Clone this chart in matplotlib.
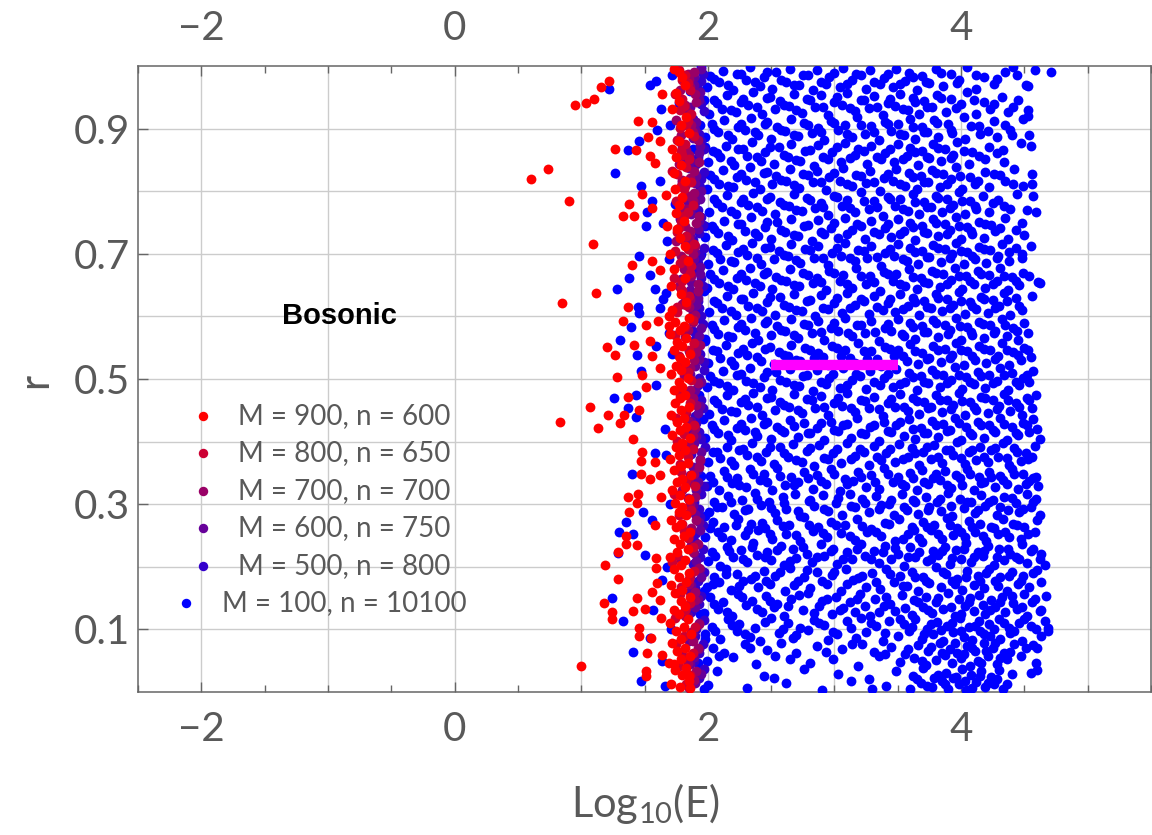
import numpy as np
import matplotlib
matplotlib.use("Agg")
import matplotlib.pyplot as plt
from matplotlib.lines import Line2D
from matplotlib.ticker import MultipleLocator, FixedLocator

plt.rcParams['font.family'] = ['Lato', 'DejaVu Sans']
plt.rcParams['mathtext.fontset'] = 'custom'
plt.rcParams['mathtext.rm'] = 'Lato'
plt.rcParams['mathtext.default'] = 'regular'

# series labels and colours (legend order)
labels = ["M = 900, n = 600", "M = 800, n = 650", "M = 700, n = 700",
          "M = 600, n = 750", "M = 500, n = 800", "M = 100, n = 10100"]
colors = ["#ff0000", "#cc0033", "#990066", "#660099", "#3300cc", "#0000ff"]

# M = 100 (blue) : estimated positions (log10 E, r)
blue_pts = [
(2.00,.011),(2.31,.006),(2.62,.014),(2.90,.003),(3.13,.017),(3.41,.009),(3.60,.004),(3.68,.015),(3.77,.008),(3.85,.018),(3.90,.005),(3.98,.012),(4.04,.003),(4.12,.016),(4.19,.008),(4.26,.013),(4.33,.004),
(2.07,.033),(2.44,.025),(2.76,.037),(3.03,.028),(3.27,.021),(3.49,.034),(3.62,.026),(3.70,.038),(3.79,.023),(3.88,.031),(3.94,.022),(4.01,.036),(4.08,.027),(4.16,.033),(4.24,.024),(4.30,.035),(4.40,.029),(4.55,.031),
(1.99,.049),(2.20,.056),(2.38,.044),(2.53,.058),(2.81,.047),(2.99,.053),(3.19,.042),(3.35,.057),(3.52,.048),(3.63,.055),(3.72,.043),(3.80,.051),(3.87,.059),(3.93,.046),(4.00,.054),(4.07,.041),(4.13,.050),(4.21,.057),(4.28,.045),(4.36,.052),(4.47,.058),(4.59,.046),
(2.04,.071),(2.13,.063),(2.29,.076),(2.47,.067),(2.58,.079),(2.70,.062),(2.86,.073),(3.06,.068),(3.22,.077),(3.31,.064),(3.45,.072),(3.56,.061),(3.66,.075),(3.74,.066),(3.83,.078),(3.91,.069),(3.97,.062),(4.05,.074),(4.11,.065),(4.18,.079),(4.25,.070),(4.34,.063),(4.42,.076),(4.60,.071),
(1.98,.092),(2.10,.084),(2.23,.097),(2.33,.088),(2.41,.081),(2.56,.095),(2.67,.086),(2.79,.099),(2.95,.083),(3.02,.093),(3.17,.087),(3.25,.096),(3.38,.082),(3.50,.090),(3.59,.098),(3.69,.085),(3.78,.093),(3.86,.081),(3.94,.096),(4.02,.088),(4.09,.083),(4.15,.097),(4.23,.090),(4.31,.085),(4.39,.095),(4.48,.082),(4.63,.089),(4.69,.097),
(2.03,.104),(2.16,.116),(2.25,.109),(2.37,.103),(2.50,.118),(2.63,.111),(2.73,.102),(2.84,.115),(2.92,.107),(3.10,.113),(3.21,.119),(3.33,.105),(3.43,.114),(3.55,.108),(3.64,.117),(3.73,.101),(3.81,.112),(3.89,.106),(3.99,.118),(4.06,.104),(4.14,.113),(4.22,.108),(4.30,.117),(4.38,.102),(4.46,.111),(4.55,.106),(4.66,.114),
(1.97,.126),(2.08,.133),(2.19,.122),(2.30,.139),(2.43,.128),(2.52,.136),(2.60,.121),(2.75,.131),(2.88,.138),(2.98,.124),(3.07,.134),(3.16,.127),(3.28,.121),(3.39,.137),(3.48,.129),(3.61,.123),(3.70,.135),(3.77,.126),(3.86,.132),(3.95,.121),(4.03,.138),(4.10,.129),(4.19,.124),(4.27,.135),(4.35,.127),(4.44,.133),(4.52,.122),(4.62,.130),
(2.02,.151),(2.12,.143),(2.24,.157),(2.35,.146),(2.46,.154),(2.55,.141),(2.66,.149),(2.79,.158),(2.90,.145),(3.01,.152),(3.12,.143),(3.20,.156),(3.32,.148),(3.44,.141),(3.53,.155),(3.63,.147),(3.72,.152),(3.80,.143),(3.90,.158),(3.98,.149),(4.06,.144),(4.14,.155),(4.24,.147),(4.32,.152),(4.41,.142),(4.50,.157),(4.58,.148),(4.67,.153),
(1.99,.168),(2.09,.175),(2.18,.163),(2.28,.178),(2.40,.167),(2.49,.172),(2.61,.161),(2.71,.177),(2.81,.166),(2.94,.173),(3.05,.162),(3.15,.179),(3.25,.168),(3.36,.164),(3.47,.176),(3.57,.169),(3.66,.161),(3.75,.174),(3.84,.167),(3.93,.178),(4.01,.163),(4.10,.171),(4.18,.166),(4.27,.177),(4.36,.162),(4.45,.173),(4.54,.167),(4.63,.175),
(2.05,.184),(2.14,.196),(2.23,.188),(2.34,.181),(2.44,.193),(2.53,.186),(2.65,.198),(2.76,.183),(2.86,.191),(2.98,.187),(3.09,.196),(3.19,.182),(3.30,.190),(3.41,.197),(3.52,.185),(3.61,.192),(3.70,.183),(3.80,.199),(3.88,.188),(3.97,.181),(4.05,.194),(4.13,.186),(4.22,.197),(4.31,.184),(4.40,.191),(4.49,.186),(4.60,.195),
(2.00,.209),(2.10,.202),(2.20,.216),(2.31,.207),(2.39,.219),(2.50,.211),(2.60,.203),(2.70,.214),(2.82,.208),(2.92,.218),(3.02,.204),(3.14,.212),(3.24,.217),(3.35,.206),(3.45,.213),(3.55,.202),(3.64,.215),(3.73,.209),(3.82,.219),(3.91,.205),(4.00,.213),(4.08,.207),(4.17,.218),(4.26,.203),(4.34,.211),(4.43,.216),(4.52,.206),(4.62,.213),
(2.03,.224),(2.15,.232),(2.26,.227),(2.36,.238),(2.47,.223),(2.58,.233),(2.67,.228),(2.78,.221),(2.89,.236),(2.99,.229),(3.10,.223),(3.21,.237),(3.31,.226),(3.40,.234),(3.50,.221),(3.60,.231),(3.69,.239),(3.78,.225),(3.87,.232),(3.96,.227),(4.04,.238),(4.13,.223),(4.21,.233),(4.30,.228),(4.39,.221),(4.48,.236),(4.57,.229),
(1.98,.247),(2.08,.255),(2.18,.243),(2.29,.251),(2.40,.258),(2.51,.245),(2.62,.253),(2.73,.242),(2.83,.257),(2.94,.248),(3.05,.254),(3.16,.243),(3.26,.256),(3.37,.249),(3.48,.241),(3.58,.252),(3.67,.246),(3.76,.258),(3.85,.244),(3.94,.251),(4.03,.247),(4.11,.256),(4.20,.242),(4.29,.253),(4.38,.248),(4.47,.244),(4.58,.255),
(2.04,.271),(2.13,.263),(2.24,.276),(2.34,.268),(2.45,.262),(2.55,.274),(2.64,.267),(2.76,.279),(2.87,.264),(2.97,.272),(3.08,.266),(3.18,.277),(3.29,.261),(3.40,.270),(3.51,.276),(3.61,.263),(3.70,.271),(3.79,.267),(3.89,.278),(3.97,.262),(4.06,.273),(4.15,.268),(4.24,.263),(4.33,.276),(4.41,.269),(4.50,.264),(4.60,.274),
(2.01,.288),(2.11,.296),(2.21,.284),(2.32,.292),(2.42,.299),(2.53,.286),(2.62,.293),(2.73,.281),(2.84,.297),(2.95,.289),(3.06,.283),(3.16,.295),(3.27,.287),(3.37,.298),(3.47,.282),(3.57,.291),(3.66,.285),(3.75,.296),(3.84,.289),(3.93,.281),(4.02,.294),(4.11,.286),(4.19,.297),(4.28,.283),(4.37,.291),(4.46,.287),(4.55,.295),(4.62,.283),
(2.05,.304),(2.16,.313),(2.27,.306),(2.37,.318),(2.48,.303),(2.59,.311),(2.69,.316),(2.80,.305),(2.91,.314),(3.01,.302),(3.12,.317),(3.22,.308),(3.33,.313),(3.43,.301),(3.53,.316),(3.62,.307),(3.72,.312),(3.81,.303),(3.90,.318),(3.99,.309),(4.08,.304),(4.16,.315),(4.25,.306),(4.34,.312),(4.43,.302),(4.52,.317),(4.59,.308),
(1.99,.329),(2.09,.322),(2.19,.334),(2.30,.327),(2.41,.338),(2.51,.323),(2.61,.331),(2.71,.336),(2.83,.325),(2.93,.333),(3.04,.321),(3.15,.337),(3.25,.328),(3.35,.324),(3.46,.335),(3.56,.329),(3.65,.322),(3.74,.333),(3.83,.338),(3.92,.326),(4.01,.331),(4.10,.322),(4.18,.336),(4.27,.328),(4.36,.333),(4.45,.324),(4.54,.337),(4.61,.329),
(2.02,.345),(2.13,.353),(2.23,.342),(2.33,.356),(2.44,.348),(2.55,.358),(2.66,.343),(2.76,.351),(2.86,.346),(2.97,.357),(3.08,.341),(3.19,.352),(3.29,.347),(3.39,.358),(3.50,.344),(3.60,.350),(3.69,.355),(3.78,.342),(3.87,.353),(3.96,.347),(4.05,.356),(4.14,.343),(4.22,.351),(4.31,.345),(4.40,.357),(4.49,.348),(4.57,.342),
(2.00,.367),(2.10,.374),(2.21,.362),(2.31,.378),(2.42,.369),(2.52,.364),(2.63,.375),(2.74,.368),(2.84,.361),(2.95,.373),(3.05,.366),(3.16,.377),(3.27,.363),(3.37,.371),(3.48,.367),(3.58,.376),(3.67,.362),(3.76,.372),(3.85,.366),(3.94,.378),(4.03,.364),(4.12,.371),(4.21,.367),(4.29,.375),(4.38,.362),(4.47,.369),(4.56,.376),
(2.04,.384),(2.15,.392),(2.25,.387),(2.35,.398),(2.46,.383),(2.57,.391),(2.67,.396),(2.78,.385),(2.88,.394),(2.99,.382),(3.10,.397),(3.20,.388),(3.31,.393),(3.41,.381),(3.51,.396),(3.61,.389),(3.70,.384),(3.79,.395),(3.88,.387),(3.97,.399),(4.06,.383),(4.15,.391),(4.24,.386),(4.33,.397),(4.42,.389),(4.51,.382),(4.58,.393),
(1.98,.406),(2.08,.414),(2.18,.403),(2.29,.418),(2.39,.409),(2.50,.404),(2.60,.416),(2.71,.408),(2.81,.413),(2.92,.402),(3.03,.417),(3.13,.406),(3.24,.412),(3.35,.401),(3.45,.416),(3.55,.409),(3.64,.404),(3.73,.414),(3.82,.407),(3.91,.418),(4.00,.403),(4.09,.411),(4.18,.406),(4.27,.416),(4.36,.402),(4.45,.410),(4.54,.415),(4.62,.404),
(2.03,.427),(2.13,.434),(2.23,.422),(2.34,.437),(2.44,.428),(2.55,.423),(2.65,.435),(2.76,.429),(2.86,.421),(2.97,.432),(3.07,.426),(3.18,.438),(3.28,.424),(3.39,.431),(3.49,.427),(3.59,.436),(3.68,.422),(3.77,.433),(3.86,.428),(3.95,.438),(4.04,.424),(4.13,.432),(4.22,.426),(4.31,.437),(4.40,.423),(4.49,.430),(4.57,.436),
(2.01,.444),(2.11,.452),(2.22,.447),(2.32,.458),(2.43,.443),(2.53,.451),(2.64,.456),(2.74,.445),(2.85,.454),(2.95,.442),(3.06,.457),(3.16,.448),(3.27,.453),(3.38,.441),(3.48,.456),(3.58,.449),(3.67,.444),(3.76,.455),(3.85,.447),(3.94,.459),(4.03,.443),(4.12,.451),(4.21,.446),(4.30,.457),(4.39,.449),(4.48,.442),(4.56,.453),
(2.05,.466),(2.15,.474),(2.26,.463),(2.36,.478),(2.47,.469),(2.57,.464),(2.68,.476),(2.78,.468),(2.89,.473),(3.00,.462),(3.10,.477),(3.21,.466),(3.31,.472),(3.42,.461),(3.52,.476),(3.62,.469),(3.71,.464),(3.80,.474),(3.89,.467),(3.98,.478),(4.07,.463),(4.16,.471),(4.25,.466),(4.34,.476),(4.43,.462),(4.52,.470),(4.59,.475),
(1.99,.487),(2.09,.494),(2.20,.482),(2.30,.497),(2.41,.488),(2.51,.483),(2.62,.495),(2.72,.489),(2.83,.481),(2.93,.492),(3.04,.486),(3.14,.498),(3.25,.484),(3.36,.491),(3.46,.487),(3.56,.496),(3.65,.482),(3.74,.493),(3.83,.488),(3.92,.498),(4.01,.484),(4.10,.492),(4.19,.486),(4.28,.497),(4.37,.483),(4.46,.490),(4.54,.495),
(2.02,.504),(2.12,.512),(2.23,.507),(2.33,.518),(2.44,.503),(2.54,.511),(2.65,.516),(2.75,.505),(2.86,.514),(2.96,.502),(3.07,.517),(3.17,.508),(3.28,.513),(3.39,.501),(3.49,.516),(3.59,.509),(3.68,.504),(3.77,.515),(3.86,.507),(3.95,.519),(4.04,.503),(4.13,.511),(4.22,.506),(4.31,.517),(4.40,.509),(4.49,.502),(4.57,.513),
(2.00,.526),(2.10,.534),(2.21,.523),(2.31,.538),(2.42,.529),(2.52,.524),(2.63,.536),(2.73,.528),(2.84,.533),(2.95,.522),(3.05,.537),(3.16,.526),(3.26,.532),(3.37,.521),(3.47,.536),(3.57,.529),(3.66,.524),(3.75,.534),(3.84,.527),(3.93,.538),(4.02,.523),(4.11,.531),(4.20,.526),(4.29,.536),(4.38,.522),(4.47,.530),(4.55,.535),
(2.04,.547),(2.14,.554),(2.24,.542),(2.35,.557),(2.45,.548),(2.56,.543),(2.66,.555),(2.77,.549),(2.87,.541),(2.98,.552),(3.08,.546),(3.19,.558),(3.29,.544),(3.40,.551),(3.50,.547),(3.60,.556),(3.69,.542),(3.78,.553),(3.87,.548),(3.96,.558),(4.05,.544),(4.14,.552),(4.23,.546),(4.32,.557),(4.41,.543),(4.50,.550),
(1.98,.564),(2.08,.572),(2.19,.567),(2.29,.578),(2.40,.563),(2.50,.571),(2.61,.576),(2.71,.565),(2.82,.574),(2.92,.562),(3.03,.577),(3.14,.568),(3.24,.573),(3.35,.561),(3.45,.576),(3.55,.569),(3.64,.564),(3.73,.575),(3.82,.567),(3.91,.579),(4.00,.563),(4.09,.571),(4.18,.566),(4.27,.577),(4.36,.569),(4.45,.562),(4.53,.573),
(2.03,.586),(2.13,.594),(2.24,.583),(2.34,.598),(2.45,.589),(2.55,.584),(2.66,.596),(2.76,.588),(2.87,.593),(2.97,.582),(3.08,.597),(3.18,.586),(3.29,.592),(3.40,.581),(3.50,.596),(3.60,.589),(3.69,.584),(3.78,.594),(3.87,.587),(3.96,.598),(4.05,.583),(4.14,.591),(4.23,.586),(4.32,.596),(4.41,.582),(4.50,.590),
(2.01,.607),(2.11,.614),(2.22,.602),(2.32,.617),(2.43,.608),(2.53,.603),(2.64,.615),(2.74,.609),(2.85,.601),(2.95,.612),(3.06,.606),(3.16,.618),(3.27,.604),(3.38,.611),(3.48,.607),(3.58,.616),(3.67,.602),(3.76,.613),(3.85,.608),(3.94,.618),(4.03,.604),(4.12,.612),(4.21,.606),(4.30,.617),(4.39,.603),(4.48,.610),
(2.05,.624),(2.15,.632),(2.26,.627),(2.36,.638),(2.47,.623),(2.57,.631),(2.68,.636),(2.78,.625),(2.89,.634),(3.00,.622),(3.10,.637),(3.21,.628),(3.31,.633),(3.42,.621),(3.52,.636),(3.62,.629),(3.71,.624),(3.80,.635),(3.89,.627),(3.98,.639),(4.07,.623),(4.16,.631),(4.25,.626),(4.34,.637),(4.43,.629),(4.56,.633),
(1.99,.646),(2.09,.654),(2.20,.643),(2.30,.658),(2.41,.649),(2.51,.644),(2.62,.656),(2.72,.648),(2.83,.653),(2.93,.642),(3.04,.657),(3.14,.646),(3.25,.652),(3.36,.641),(3.46,.656),(3.56,.649),(3.65,.644),(3.74,.654),(3.83,.647),(3.92,.658),(4.01,.643),(4.10,.651),(4.19,.646),(4.28,.656),(4.37,.642),(4.46,.650),(4.61,.655),
(2.02,.667),(2.12,.674),(2.23,.662),(2.33,.677),(2.44,.668),(2.54,.663),(2.65,.675),(2.75,.669),(2.86,.661),(2.96,.672),(3.07,.666),(3.17,.678),(3.28,.664),(3.39,.671),(3.49,.667),(3.59,.676),(3.68,.662),(3.77,.673),(3.86,.668),(3.95,.678),(4.04,.664),(4.13,.672),(4.22,.666),(4.31,.677),(4.40,.663),(4.49,.670),
(2.00,.684),(2.10,.692),(2.21,.687),(2.31,.698),(2.42,.683),(2.52,.691),(2.63,.696),(2.73,.685),(2.84,.694),(2.95,.682),(3.05,.697),(3.16,.688),(3.26,.693),(3.37,.681),(3.47,.696),(3.57,.689),(3.66,.684),(3.75,.695),(3.84,.687),(3.93,.699),(4.02,.683),(4.11,.691),(4.20,.686),(4.29,.697),(4.38,.689),(4.48,.694),
(2.04,.706),(2.14,.714),(2.24,.703),(2.35,.718),(2.45,.709),(2.56,.704),(2.66,.716),(2.77,.708),(2.87,.713),(2.98,.702),(3.08,.717),(3.19,.706),(3.29,.712),(3.40,.701),(3.50,.716),(3.60,.709),(3.69,.704),(3.78,.714),(3.87,.707),(3.96,.718),(4.05,.703),(4.14,.711),(4.23,.706),(4.32,.716),(4.43,.709),(4.55,.713),
(1.98,.727),(2.08,.734),(2.19,.722),(2.29,.737),(2.40,.728),(2.50,.723),(2.61,.735),(2.71,.729),(2.82,.721),(2.92,.732),(3.03,.726),(3.14,.738),(3.24,.724),(3.35,.731),(3.45,.727),(3.55,.736),(3.64,.722),(3.73,.733),(3.82,.728),(3.91,.738),(4.00,.724),(4.09,.732),(4.18,.726),(4.27,.737),(4.37,.723),(4.50,.730),
(2.03,.744),(2.13,.752),(2.24,.747),(2.34,.758),(2.45,.743),(2.55,.751),(2.66,.756),(2.76,.745),(2.87,.754),(2.97,.742),(3.08,.757),(3.18,.748),(3.29,.753),(3.40,.741),(3.50,.756),(3.60,.749),(3.69,.744),(3.78,.755),(3.87,.747),(3.96,.759),(4.05,.743),(4.14,.751),(4.24,.746),(4.35,.757),(4.48,.749),
(2.01,.766),(2.11,.774),(2.22,.763),(2.32,.778),(2.43,.769),(2.53,.764),(2.64,.776),(2.74,.768),(2.85,.773),(2.95,.762),(3.06,.777),(3.16,.766),(3.27,.772),(3.38,.761),(3.48,.776),(3.58,.769),(3.67,.764),(3.76,.774),(3.85,.767),(3.94,.778),(4.03,.763),(4.12,.771),(4.22,.766),(4.34,.776),(4.52,.770),
(2.05,.787),(2.15,.794),(2.26,.782),(2.36,.797),(2.47,.788),(2.57,.783),(2.68,.795),(2.78,.789),(2.89,.781),(3.00,.792),(3.10,.786),(3.21,.798),(3.31,.784),(3.42,.791),(3.52,.787),(3.62,.796),(3.71,.782),(3.80,.793),(3.89,.788),(3.98,.798),(4.07,.784),(4.17,.792),(4.29,.786),(4.44,.795),
(1.99,.804),(2.09,.812),(2.20,.807),(2.30,.818),(2.41,.803),(2.51,.811),(2.62,.816),(2.72,.805),(2.83,.814),(2.93,.802),(3.04,.817),(3.14,.808),(3.25,.813),(3.36,.801),(3.46,.816),(3.56,.809),(3.65,.804),(3.74,.815),(3.83,.807),(3.92,.819),(4.01,.803),(4.11,.811),(4.22,.806),(4.35,.817),(4.49,.808),
(2.02,.826),(2.12,.834),(2.23,.823),(2.33,.838),(2.44,.829),(2.54,.824),(2.65,.836),(2.75,.828),(2.86,.833),(2.96,.822),(3.07,.837),(3.17,.826),(3.28,.832),(3.39,.821),(3.49,.836),(3.59,.829),(3.68,.824),(3.77,.834),(3.86,.827),(3.96,.838),(4.07,.823),(4.19,.831),(4.31,.826),(4.42,.836),
(2.00,.847),(2.10,.854),(2.21,.842),(2.31,.857),(2.42,.848),(2.52,.843),(2.63,.855),(2.73,.849),(2.84,.841),(2.95,.852),(3.05,.846),(3.16,.858),(3.26,.844),(3.37,.851),(3.47,.847),(3.57,.856),(3.66,.842),(3.75,.853),(3.84,.848),(3.94,.858),(4.06,.844),(4.19,.852),(4.34,.846),
(2.04,.864),(2.14,.872),(2.24,.867),(2.35,.878),(2.45,.863),(2.56,.871),(2.66,.876),(2.77,.865),(2.87,.874),(2.98,.862),(3.08,.877),(3.19,.868),(3.29,.873),(3.40,.861),(3.50,.876),(3.60,.869),(3.69,.864),(3.78,.875),(3.87,.867),(3.97,.879),(4.09,.863),(4.22,.871),(4.33,.866),(4.47,.877),
(1.98,.886),(2.08,.894),(2.19,.883),(2.29,.898),(2.40,.889),(2.50,.884),(2.61,.896),(2.71,.888),(2.82,.893),(2.92,.882),(3.03,.897),(3.14,.886),(3.24,.892),(3.35,.881),(3.45,.896),(3.55,.889),(3.64,.884),(3.73,.894),(3.82,.887),(3.92,.898),(4.03,.883),(4.15,.891),(4.28,.886),(4.39,.897),(4.54,.889),
(2.03,.907),(2.13,.914),(2.24,.902),(2.34,.917),(2.45,.908),(2.55,.903),(2.66,.915),(2.76,.909),(2.87,.901),(2.97,.912),(3.08,.906),(3.18,.918),(3.29,.904),(3.40,.911),(3.50,.907),(3.60,.916),(3.69,.902),(3.79,.913),(3.90,.908),(4.02,.918),(4.14,.904),(4.26,.912),(4.49,.915),
(2.01,.924),(2.11,.932),(2.22,.927),(2.32,.938),(2.43,.923),(2.53,.931),(2.64,.936),(2.74,.925),(2.85,.934),(2.95,.922),(3.06,.937),(3.16,.928),(3.27,.933),(3.38,.921),(3.48,.936),(3.58,.929),(3.67,.924),(3.77,.935),(3.88,.927),(4.00,.939),(4.12,.923),(4.23,.931),(4.37,.926),(4.53,.929),
(2.05,.946),(2.15,.954),(2.26,.943),(2.36,.958),(2.47,.949),(2.57,.944),(2.68,.956),(2.78,.948),(2.89,.953),(3.00,.942),(3.10,.957),(3.21,.946),(3.31,.952),(3.42,.941),(3.52,.956),(3.62,.949),(3.71,.944),(3.81,.954),(3.92,.947),(4.05,.958),(4.18,.943),(4.32,.951),(4.45,.946),
(1.99,.967),(2.09,.974),(2.20,.962),(2.30,.977),(2.41,.968),(2.51,.963),(2.62,.975),(2.72,.969),(2.83,.961),(2.93,.972),(3.04,.966),(3.14,.978),(3.25,.964),(3.36,.971),(3.46,.967),(3.56,.976),(3.65,.962),(3.75,.973),(3.86,.968),(3.98,.978),(4.12,.964),(4.26,.972),(4.51,.969),
(2.02,.984),(2.12,.992),(2.23,.987),(2.33,.998),(2.44,.983),(2.54,.991),(2.65,.996),(2.75,.985),(2.86,.994),(2.96,.982),(3.07,.997),(3.17,.988),(3.28,.993),(3.39,.981),(3.49,.996),(3.59,.989),(3.69,.984),(3.80,.995),(3.92,.987),(4.05,.998),(4.18,.983),(4.35,.991),(4.58,.994),(4.71,.990),
# right-edge stragglers
(4.41,.999),(4.53,.968),(4.53,.920),(4.40,.890),(4.55,.872),(4.56,.828),(4.56,.811),(4.57,.792),(4.59,.766),(4.62,.654),(4.66,.203),(4.69,.102),(4.63,.131),(4.57,.075),(4.60,.035),
# sparse blue left of the dense block
(1.22,.963),(1.54,.969),(1.59,.976),(1.63,.932),(1.46,.880),(1.37,.866),(1.60,.897),(1.27,.829),(1.47,.809),(1.62,.816),(1.56,.785),(1.52,.766),(1.51,.744),(1.65,.750),(1.46,.696),(1.38,.662),(1.54,.666),(1.28,.643),(1.58,.643),(1.45,.615),(1.46,.605),(1.62,.614),(1.31,.563),(1.39,.583),(1.44,.539),(1.59,.553),(1.47,.512),(1.69,.691),(1.67,.638),(1.65,.627),(1.69,.573),(1.26,.470),(1.43,.475),(1.37,.454),(1.43,.440),(1.59,.491),(1.58,.382),(1.40,.348),(1.49,.288),(1.35,.272),(1.30,.256),(1.41,.252),(1.56,.275),(1.50,.219),(1.29,.222),(1.24,.150),(1.33,.113),(1.54,.086),(1.41,.064),(1.47,.017),(1.64,.050),(1.57,.131),(1.64,.179),(1.67,.379),
(1.72,.985),(1.86,.960),(1.70,.905),(1.90,.850),(1.74,.780),(1.68,.720),(1.93,.760),(1.72,.540),(1.66,.420),(1.70,.300),(1.68,.200),(1.71,.100),(1.66,.010),
(1.97,.004),(1.92,.046),(1.98,.084),(1.94,.125),(1.97,.162),(1.90,.240),(1.98,.281),(1.95,.345),(1.96,.436),(1.93,.474),(1.98,.560),(1.92,.598),(1.97,.640),(1.95,.700),(1.98,.745),(1.91,.790),(1.96,.828),(1.98,.870),(1.94,.905),(1.97,.946),(1.92,.975),(1.95,.998),(1.82,.982),(1.77,.941),(1.88,.867),
]

# more M = 100 points filling the dense block
blue_fill_pts = [
(3.65,.020),(3.73,.010),(3.82,.027),(3.87,.013),(3.96,.024),(4.03,.017),(4.09,.006),(4.15,.025),(4.21,.015),(4.28,.021),(4.36,.012),(2.52,.022),(3.30,.005),
(2.09,.058),(2.33,.071),(2.65,.052),(2.93,.064),(3.14,.077),(3.40,.060),(3.58,.069),(3.69,.050),(3.76,.072),(3.85,.063),(3.95,.079),(4.02,.060),(4.09,.070),(4.16,.046),(4.20,.066),(4.27,.078),(4.31,.054),(4.39,.064),(4.51,.071),
(2.06,.098),(2.19,.107),(2.29,.093),(2.45,.112),(2.59,.100),(2.70,.091),(2.88,.110),(2.99,.096),(3.13,.103),(3.29,.111),(3.40,.094),(3.52,.116),(3.61,.104),(3.71,.092),(3.76,.108),(3.84,.099),(3.93,.110),(4.00,.097),(4.11,.105),(4.18,.093),(4.26,.101),(4.34,.111),(4.42,.098),(4.50,.117),(4.59,.101),
(2.05,.140),(2.15,.128),(2.27,.151),(2.39,.133),(2.49,.146),(2.63,.137),(2.72,.155),(2.84,.126),(2.94,.148),(3.04,.131),(3.18,.149),(3.24,.138),(3.35,.128),(3.41,.152),(3.56,.134),(3.66,.144),(3.74,.131),(3.82,.150),(3.92,.136),(4.00,.124),(4.07,.150),(4.17,.139),(4.23,.131),(4.31,.144),(4.40,.153),(4.48,.136),(4.56,.143),
(2.04,.173),(2.14,.189),(2.25,.170),(2.37,.185),(2.46,.177),(2.57,.191),(2.68,.171),(2.78,.195),(2.90,.178),(3.00,.192),(3.10,.172),(3.22,.186),(3.33,.175),(3.44,.189),(3.54,.170),(3.64,.184),(3.72,.177),(3.86,.191),(3.95,.172),(4.04,.184),(4.15,.178),(4.20,.190),(4.29,.169),(4.38,.186),(4.47,.177),(4.57,.190),
(2.06,.218),(2.17,.226),(2.28,.212),(2.35,.231),(2.45,.216),(2.55,.227),(2.65,.210),(2.75,.232),(2.86,.215),(2.97,.226),(3.07,.212),(3.18,.228),(3.29,.212),(3.38,.224),(3.48,.230),(3.58,.215),(3.67,.223),(3.76,.212),(3.85,.225),(3.93,.214),(4.02,.229),(4.10,.216),(4.18,.226),(4.28,.215),(4.37,.229),(4.46,.212),(4.55,.225),(4.63,.220),
(2.02,.262),(2.11,.247),(2.22,.266),(2.32,.258),(2.43,.270),(2.49,.253),(2.59,.265),(2.70,.251),(2.80,.267),(2.91,.254),(3.01,.266),(3.12,.250),(3.22,.265),(3.33,.255),(3.43,.268),(3.54,.244),(3.63,.259),(3.73,.264),(3.82,.252),(3.91,.267),(4.00,.256),(4.09,.264),(4.17,.250),(4.26,.262),(4.35,.256),(4.44,.267),(4.53,.252),
(2.07,.296),(2.18,.304),(2.29,.291),(2.39,.308),(2.50,.294),(2.60,.302),(2.71,.289),(2.81,.306),(2.92,.292),(3.03,.310),(3.13,.297),(3.24,.302),(3.35,.292),(3.45,.307),(3.55,.296),(3.64,.303),(3.74,.290),(3.83,.308),(3.92,.297),(4.05,.303),(4.13,.291),(4.22,.303),(4.31,.296),(4.40,.310),(4.49,.293),(4.57,.304),
(2.04,.336),(2.15,.344),(2.25,.331),(2.36,.348),(2.47,.335),(2.57,.345),(2.68,.330),(2.79,.342),(2.89,.337),(3.00,.349),(3.10,.332),(3.21,.344),(3.32,.336),(3.42,.348),(3.53,.332),(3.62,.342),(3.71,.336),(3.80,.348),(3.89,.331),(3.99,.342),(4.07,.349),(4.16,.334),(4.24,.344),(4.33,.339),(4.42,.348),(4.51,.333),(4.59,.344),
(2.07,.383),(2.18,.369),(2.28,.388),(2.39,.375),(2.49,.392),(2.60,.381),(2.70,.370),(2.81,.389),(2.92,.374),(3.02,.388),(3.13,.372),(3.23,.383),(3.34,.375),(3.44,.388),(3.54,.372),(3.64,.381),(3.73,.392),(3.82,.375),(3.91,.387),(4.00,.374),(4.09,.386),(4.18,.376),(4.27,.389),(4.36,.374),(4.44,.384),(4.53,.372),
(2.05,.420),(2.16,.411),(2.26,.428),(2.37,.415),(2.47,.432),(2.58,.419),(2.68,.425),(2.79,.414),(2.89,.430),(3.00,.418),(3.10,.428),(3.21,.413),(3.31,.426),(3.42,.417),(3.52,.431),(3.62,.420),(3.71,.413),(3.80,.426),(3.89,.417),(3.98,.430),(4.07,.414),(4.16,.426),(4.25,.418),(4.34,.428),(4.43,.414),(4.52,.426),(4.60,.420),
(2.07,.462),(2.18,.449),(2.29,.468),(2.39,.455),(2.50,.471),(2.60,.458),(2.71,.450),(2.82,.466),(2.92,.455),(3.03,.470),(3.13,.453),(3.24,.465),(3.35,.452),(3.45,.468),(3.55,.456),(3.65,.465),(3.74,.453),(3.83,.467),(3.92,.452),(4.01,.465),(4.10,.456),(4.19,.469),(4.28,.452),(4.37,.466),(4.46,.456),(4.54,.466),
(2.05,.497),(2.15,.489),(2.26,.508),(2.36,.493),(2.47,.511),(2.57,.498),(2.68,.490),(2.78,.506),(2.89,.495),(2.99,.508),(3.10,.491),(3.20,.505),(3.31,.496),(3.42,.508),(3.52,.492),(3.62,.503),(3.71,.495),(3.80,.508),(3.89,.493),(3.98,.506),(4.07,.496),(4.16,.505),(4.25,.493),(4.34,.507),(4.43,.496),(4.52,.506),
(2.07,.544),(2.18,.529),(2.28,.548),(2.39,.535),(2.49,.551),(2.60,.538),(2.70,.530),(2.81,.546),(2.91,.535),(3.02,.549),(3.12,.533),(3.23,.545),(3.34,.532),(3.44,.548),(3.54,.536),(3.64,.545),(3.73,.532),(3.82,.547),(3.91,.533),(4.00,.546),(4.09,.536),(4.18,.548),(4.27,.532),(4.36,.546),(4.45,.538),(4.53,.547),
(2.05,.580),(2.16,.569),(2.26,.588),(2.37,.574),(2.47,.592),(2.58,.578),(2.68,.570),(2.79,.586),(2.89,.575),(3.00,.590),(3.11,.573),(3.21,.586),(3.32,.575),(3.42,.588),(3.53,.572),(3.62,.583),(3.71,.575),(3.80,.589),(3.90,.572),(3.99,.585),(4.08,.575),(4.17,.588),(4.26,.573),(4.35,.586),(4.44,.577),
(2.07,.622),(2.18,.609),(2.28,.628),(2.39,.614),(2.49,.631),(2.60,.618),(2.70,.610),(2.81,.626),(2.91,.614),(3.02,.630),(3.12,.613),(3.23,.625),(3.34,.615),(3.44,.628),(3.54,.612),(3.64,.623),(3.73,.615),(3.82,.629),(3.91,.613),(4.00,.625),(4.09,.616),(4.18,.628),(4.27,.613),(4.36,.624),(4.46,.617),
(2.05,.660),(2.16,.649),(2.26,.667),(2.37,.654),(2.47,.671),(2.58,.658),(2.68,.650),(2.79,.666),(2.89,.655),(3.00,.669),(3.10,.652),(3.21,.665),(3.31,.655),(3.42,.668),(3.52,.652),(3.62,.663),(3.71,.655),(3.80,.669),(3.89,.652),(3.98,.665),(4.07,.656),(4.16,.668),(4.25,.652),(4.34,.664),(4.43,.657),(4.54,.664),
(2.07,.701),(2.18,.689),(2.28,.708),(2.39,.694),(2.49,.711),(2.60,.698),(2.70,.690),(2.81,.706),(2.91,.694),(3.02,.710),(3.12,.693),(3.23,.705),(3.34,.695),(3.44,.708),(3.54,.692),(3.64,.703),(3.73,.695),(3.82,.709),(3.91,.693),(4.00,.705),(4.09,.696),(4.18,.708),(4.28,.693),(4.38,.703),(4.48,.700),
(2.05,.740),(2.16,.729),(2.26,.747),(2.37,.734),(2.47,.751),(2.58,.738),(2.68,.730),(2.79,.746),(2.89,.735),(3.00,.749),(3.10,.732),(3.21,.745),(3.31,.735),(3.42,.748),(3.52,.732),(3.62,.743),(3.71,.735),(3.80,.749),(3.89,.732),(3.98,.745),(4.08,.736),(4.19,.748),(4.31,.741),(4.43,.738),
(2.07,.781),(2.18,.769),(2.28,.788),(2.39,.774),(2.49,.791),(2.60,.778),(2.70,.770),(2.81,.786),(2.91,.774),(3.02,.790),(3.12,.773),(3.23,.785),(3.34,.775),(3.44,.788),(3.54,.772),(3.64,.783),(3.73,.775),(3.82,.789),(3.91,.773),(4.01,.785),(4.11,.776),(4.25,.781),(4.39,.772),
(2.05,.820),(2.16,.809),(2.26,.827),(2.37,.814),(2.47,.831),(2.58,.818),(2.68,.810),(2.79,.826),(2.89,.815),(3.00,.829),(3.10,.812),(3.21,.825),(3.31,.815),(3.42,.828),(3.52,.812),(3.62,.823),(3.71,.815),(3.80,.829),(3.89,.812),(3.99,.825),(4.13,.817),(4.26,.828),(4.41,.811),
(2.07,.861),(2.18,.849),(2.28,.868),(2.39,.854),(2.49,.871),(2.60,.858),(2.70,.850),(2.81,.866),(2.91,.854),(3.02,.870),(3.12,.853),(3.23,.865),(3.34,.855),(3.44,.868),(3.54,.852),(3.64,.863),(3.73,.855),(3.82,.869),(3.92,.853),(4.02,.865),(4.14,.857),(4.28,.861),
(2.05,.900),(2.16,.889),(2.26,.907),(2.37,.894),(2.47,.911),(2.58,.898),(2.68,.890),(2.79,.906),(2.89,.895),(3.00,.909),(3.10,.892),(3.21,.905),(3.31,.895),(3.42,.908),(3.52,.892),(3.62,.903),(3.71,.895),(3.81,.909),(3.93,.893),(4.08,.904),(4.21,.896),(4.35,.906),
(2.07,.941),(2.18,.929),(2.28,.948),(2.39,.934),(2.49,.951),(2.60,.938),(2.70,.930),(2.81,.946),(2.91,.934),(3.02,.950),(3.12,.933),(3.23,.945),(3.34,.935),(3.44,.948),(3.54,.932),(3.64,.943),(3.73,.935),(3.84,.949),(3.96,.933),(4.10,.945),(4.26,.939),(4.41,.934),
(2.05,.980),(2.16,.969),(2.26,.987),(2.37,.974),(2.47,.991),(2.58,.978),(2.68,.970),(2.79,.986),(2.89,.975),(3.00,.989),(3.10,.972),(3.21,.985),(3.31,.975),(3.42,.988),(3.52,.972),(3.62,.983),(3.72,.975),(3.84,.989),(3.97,.973),(4.12,.985),(4.28,.979),(4.44,.986),
]

# M = 500
m500_pts = [
(1.93,.022),(1.89,.050),(1.96,.076),(1.91,.101),(1.87,.127),(1.95,.153),(1.92,.178),(1.88,.204),(1.96,.229),(1.91,.254),(1.94,.279),(1.89,.304),(1.97,.329),(1.92,.355),(1.87,.380),(1.95,.404),(1.91,.429),(1.96,.453),(1.89,.478),(1.93,.502),(1.97,.527),(1.91,.552),(1.88,.576),(1.95,.600),(1.92,.625),(1.96,.649),(1.90,.673),(1.94,.697),(1.88,.722),(1.96,.746),(1.92,.770),(1.89,.794),(1.95,.819),(1.91,.843),(1.97,.867),(1.93,.892),(1.88,.916),(1.95,.940),(1.92,.964),(1.96,.988),
(1.97,.037),(1.93,.063),(1.90,.089),(1.97,.115),(1.93,.140),(1.90,.166),(1.97,.191),(1.94,.216),(1.89,.242),(1.96,.266),(1.93,.292),(1.95,.317),(1.90,.342),(1.94,.367),(1.98,.392),(1.93,.416),(1.90,.441),(1.95,.466),(1.92,.490),(1.97,.515),(1.94,.540),(1.90,.564),(1.96,.588),(1.93,.613),(1.89,.637),(1.95,.661),(1.92,.685),(1.97,.710),(1.93,.734),(1.95,.758),(1.90,.782),(1.94,.807),(1.97,.831),(1.92,.855),(1.95,.880),(1.90,.904),(1.97,.928),(1.93,.952),(1.95,.976),
]

# M = 600
m600_pts = [
(1.90,.015),(1.86,.044),(1.93,.069),(1.88,.095),(1.84,.122),(1.92,.148),(1.87,.171),(1.94,.197),(1.89,.222),(1.85,.248),(1.93,.271),(1.88,.297),(1.91,.322),(1.86,.347),(1.94,.372),(1.89,.398),(1.84,.420),(1.92,.446),(1.87,.471),(1.95,.496),(1.90,.520),(1.85,.545),(1.93,.569),(1.88,.594),(1.91,.618),(1.86,.642),(1.94,.667),(1.89,.691),(1.84,.715),(1.92,.740),(1.87,.764),(1.94,.788),(1.90,.813),(1.85,.837),(1.93,.861),(1.88,.885),(1.91,.910),(1.86,.934),(1.94,.958),(1.89,.982),
(1.95,.029),(1.89,.056),(1.85,.081),(1.93,.110),(1.90,.135),(1.86,.159),(1.95,.184),(1.91,.210),(1.87,.235),(1.94,.259),(1.90,.285),(1.84,.310),(1.92,.335),(1.88,.360),(1.95,.384),(1.91,.409),(1.87,.433),(1.94,.457),(1.90,.483),(1.86,.508),(1.93,.532),(1.89,.557),(1.95,.581),(1.88,.606),(1.92,.630),(1.87,.655),(1.94,.679),(1.90,.703),(1.86,.728),(1.93,.752),(1.89,.776),(1.95,.801),(1.91,.825),(1.87,.849),(1.94,.873),(1.90,.898),(1.85,.922),(1.93,.946),(1.89,.970),(1.95,.995),
(1.82,.625),(1.79,.660),(1.86,.690),(1.81,.722),(1.78,.755),(1.84,.782),(1.80,.815),(1.83,.848),(1.78,.878),(1.85,.908),(1.80,.940),(1.83,.972),
]

# M = 700
m700_pts = [
(1.85,.006),(1.91,.033),(1.80,.059),(1.88,.082),(1.93,.108),(1.83,.134),(1.90,.160),(1.86,.185),(1.79,.211),(1.92,.236),(1.87,.262),(1.82,.285),(1.90,.311),(1.85,.336),(1.93,.359),(1.80,.384),(1.88,.409),(1.84,.433),(1.91,.458),(1.86,.482),(1.81,.506),(1.89,.531),(1.94,.555),(1.84,.579),(1.90,.603),(1.86,.628),(1.92,.652),(1.81,.676),(1.88,.699),(1.85,.724),(1.91,.749),(1.83,.772),(1.89,.797),(1.86,.821),(1.93,.846),(1.80,.869),(1.88,.894),(1.84,.918),(1.91,.942),(1.86,.967),(1.89,.991),
(1.89,.019),(1.84,.047),(1.92,.071),(1.87,.096),(1.82,.121),(1.90,.147),(1.85,.173),(1.93,.198),(1.88,.224),(1.84,.249),(1.91,.274),(1.86,.298),(1.80,.323),(1.89,.348),(1.94,.371),(1.85,.396),(1.90,.421),(1.83,.445),(1.88,.470),(1.92,.494),(1.86,.518),(1.91,.543),(1.82,.567),(1.88,.591),(1.85,.615),(1.92,.640),(1.87,.664),(1.83,.688),(1.90,.712),(1.86,.736),(1.93,.761),(1.88,.785),(1.82,.809),(1.89,.833),(1.85,.858),(1.92,.882),(1.87,.906),(1.83,.930),(1.90,.955),(1.85,.979),
(1.80,.620),(1.77,.648),(1.84,.672),(1.79,.697),(1.75,.720),(1.82,.745),(1.78,.770),(1.85,.793),(1.80,.818),(1.77,.843),(1.83,.866),(1.79,.890),(1.75,.914),(1.82,.938),(1.78,.962),(1.84,.987),
]

# M = 800
m800_pts = [
(1.83,.012),(1.77,.041),(1.88,.063),(1.81,.089),(1.74,.118),(1.86,.142),(1.79,.167),(1.89,.193),(1.76,.219),(1.84,.246),(1.80,.268),(1.87,.291),(1.73,.317),(1.83,.339),(1.78,.364),(1.88,.388),(1.81,.412),(1.75,.438),(1.86,.461),(1.79,.487),(1.84,.511),(1.77,.536),(1.89,.558),(1.82,.583),(1.76,.607),(1.85,.632),(1.80,.657),(1.87,.681),(1.74,.704),(1.83,.729),(1.79,.753),(1.88,.778),(1.81,.803),(1.76,.827),(1.85,.851),(1.82,.876),(1.78,.901),(1.87,.924),(1.80,.948),(1.84,.973),(1.77,.994),
(1.86,.027),(1.80,.054),(1.75,.077),(1.90,.104),(1.82,.131),(1.78,.156),(1.85,.181),(1.72,.207),(1.88,.232),(1.81,.257),(1.77,.283),(1.85,.306),(1.90,.329),(1.79,.352),(1.84,.376),(1.76,.401),(1.89,.426),(1.82,.449),(1.78,.474),(1.87,.498),(1.80,.523),(1.85,.546),(1.74,.571),(1.88,.595),(1.83,.619),(1.79,.644),(1.86,.669),(1.81,.692),(1.89,.716),(1.77,.741),(1.84,.766),(1.80,.789),(1.87,.815),(1.83,.839),(1.79,.864),(1.89,.888),(1.84,.912),(1.81,.936),(1.86,.961),(1.82,.986),
(1.76,.615),(1.80,.640),(1.73,.662),(1.78,.685),(1.84,.708),(1.76,.735),(1.81,.760),(1.75,.784),(1.79,.809),(1.72,.833),(1.80,.858),(1.76,.882),(1.83,.905),(1.78,.930),(1.74,.955),(1.80,.978),
]

m900_pts = [
(1.22,.976),(1.16,.966),(1.10,.947),(1.04,.941),(0.95,.938),(1.45,.912),(1.56,.911),(1.53,.886),(1.62,.880),(1.27,.868),(1.43,.866),(1.54,.857),(1.58,.845),(1.64,.956),(1.77,.991),
(0.74,.835),(0.60,.820),(0.90,.785),(1.38,.779),(1.48,.795),(1.56,.773),(1.33,.761),(1.42,.761),(1.67,.794),(1.09,.715),(1.56,.688),(1.40,.682),(1.62,.674),(1.12,.638),(0.85,.621),
(1.37,.615),(1.33,.592),(1.51,.587),(1.61,.592),(1.69,.585),(1.20,.551),(1.27,.538),(1.42,.555),(1.54,.560),(1.56,.537),(1.62,.518),(1.48,.507),(1.28,.503),(1.69,.600),
(1.07,.456),(1.21,.443),(1.13,.421),(1.31,.430),(1.34,.443),(1.37,.471),(1.46,.451),(1.51,.488),(0.83,.432),(1.41,.404),(1.48,.384),(1.47,.369),(1.58,.367),(1.54,.341),(1.47,.348),(1.62,.346),
(1.37,.311),(1.45,.317),(1.63,.311),(1.38,.287),(1.44,.302),(1.58,.266),(1.35,.250),(1.44,.235),(1.35,.237),(1.29,.224),(1.19,.203),(1.59,.214),(1.59,.198),(1.29,.181),(1.60,.174),(1.56,.160),
(1.44,.150),(1.18,.142),(1.24,.128),(1.41,.130),(1.50,.133),(1.24,.116),(1.62,.147),(1.63,.118),(1.46,.102),(1.46,.089),(1.55,.086),(1.52,.062),(1.64,.059),(1.51,.033),(1.51,.026),(1.00,.041),(1.73,.045),(1.85,.026),(1.86,.006),
(1.78,.008),(1.85,.017),(1.71,.013),(1.80,.027),(1.74,.035),(1.83,.038),(1.69,.047),(1.79,.052),(1.86,.058),(1.76,.066),(1.82,.071),(1.72,.078),(1.79,.085),(1.87,.092),(1.75,.097),(1.81,.104),(1.70,.111),(1.84,.116),(1.77,.124),(1.73,.131),(1.82,.137),(1.79,.145),(1.86,.151),(1.74,.158),(1.80,.163),(1.71,.171),(1.83,.176),(1.77,.184),(1.85,.190),(1.73,.196),
(1.79,.203),(1.82,.211),(1.70,.216),(1.76,.224),(1.84,.229),(1.78,.237),(1.73,.244),(1.81,.249),(1.86,.256),(1.75,.263),(1.79,.269),(1.71,.275),(1.83,.282),(1.77,.288),(1.80,.296),(1.74,.302),(1.85,.309),(1.78,.315),(1.72,.322),(1.82,.328),(1.76,.335),(1.80,.341),(1.87,.347),(1.73,.354),(1.79,.361),(1.84,.366),(1.70,.373),(1.77,.379),(1.82,.386),(1.75,.392),
(1.80,.398),(1.86,.405),(1.72,.411),(1.78,.418),(1.83,.424),(1.76,.431),(1.81,.437),(1.71,.443),(1.79,.450),(1.85,.456),(1.74,.462),(1.78,.469),(1.82,.475),(1.73,.482),(1.80,.488),(1.77,.495),(1.84,.501),(1.71,.508),(1.79,.514),(1.75,.521),(1.82,.527),(1.78,.534),(1.86,.540),(1.73,.546),(1.80,.553),(1.76,.559),(1.83,.566),(1.70,.572),(1.78,.579),(1.81,.585),
(1.74,.591),(1.85,.598),(1.72,.611),(1.83,.623),(1.79,.636),(1.71,.649),(1.82,.662),(1.73,.675),(1.84,.688),(1.70,.700),(1.82,.713),(1.78,.726),(1.76,.739),(1.68,.745),(1.81,.752),(1.75,.765),(1.77,.778),(1.80,.790),(1.74,.803),(1.82,.816),(1.73,.829),(1.79,.842),(1.75,.855),(1.72,.867),(1.77,.880),(1.85,.893),(1.79,.906),(1.83,.919),(1.72,.932),(1.77,.944),(1.75,.957),(1.82,.970),(1.80,.983),(1.73,.996),
]

# drawing order: blue first, red on top
series = [blue_pts + blue_fill_pts, m500_pts, m600_pts, m700_pts, m800_pts, m900_pts]
series_colors = [colors[5], colors[4], colors[3], colors[2], colors[1], colors[0]]

# magenta bar and annotation
bar_x = [2.5, 3.5]
bar_y = [0.523, 0.523]
note_text = "Bosonic"
note_pos = (-0.91, 0.60)

W, H = 1152, 835
fig = plt.figure(figsize=(W / 100, H / 100), dpi=100)
ax = fig.add_axes([138 / W, 1 - 692 / H, (1151 - 138) / W, (692 - 66) / H])

for pts, c in zip(series, series_colors):
    a = np.array(pts)
    ax.scatter(a[:, 0], a[:, 1], s=50, color=c, linewidths=0, zorder=3)

ax.plot(bar_x, bar_y, color="#ff00ff", lw=7.5, solid_capstyle="butt", zorder=4)
ax.text(note_pos[0], note_pos[1], note_text, fontsize=21, fontweight="bold",
        family="Liberation Sans", ha="center", va="center", zorder=5)

ax.set_xlim(-2.5, 5.5)
ax.set_ylim(0, 1)

gray = "#666666"
txt = "#595959"
for sp in ax.spines.values():
    sp.set_color(gray)
    sp.set_linewidth(1.1)

ax.xaxis.set_major_locator(FixedLocator([-2, 0, 2, 4]))
ax.xaxis.set_minor_locator(MultipleLocator(0.5))
ax.yaxis.set_major_locator(FixedLocator([0.1, 0.3, 0.5, 0.7, 0.9]))
ax.yaxis.set_minor_locator(FixedLocator([]))
ax.set_yticklabels(["0.1", "0.3", "0.5", "0.7", "0.9"])
ax.tick_params(axis="x", which="both", direction="in", top=True, labeltop=True,
               color=gray, labelcolor=txt, labelsize=29)
ax.tick_params(axis="x", which="major", length=7, width=1, pad=14)
ax.tick_params(axis="x", which="minor", length=5, width=1)
ax.tick_params(axis="y", which="major", direction="in", length=7, width=1,
               color=gray, labelcolor=txt, labelsize=29, pad=6)

# grid
for gx in range(-2, 6):
    ax.axvline(gx, color="#cccccc", lw=1, zorder=1)
for gy in np.arange(0.1, 1.0, 0.1):
    ax.axhline(gy, color="#cccccc", lw=1, zorder=1)

# axis labels
fig.text(35 / W, 1 - 380 / H, "r", rotation=90, fontsize=30, color=txt,
         ha="center", va="center")
fig.text(645 / W, 1 - 803 / H, "Log$_{10}$(E)", fontsize=30, color=txt,
         ha="center", va="center")

# legend
leg_rows = [416, 453, 491, 528, 566, 603]
leg_mx = [203, 203, 203, 203, 203, 186]
leg_tx = [238, 238, 238, 238, 238, 222]
for lab, c, ry, mx, tx in zip(labels, colors, leg_rows, leg_mx, leg_tx):
    fig.add_artist(Line2D([mx / W], [1 - ry / H], marker="o", markersize=6.8,
                          color=c, markeredgewidth=0, linestyle="none",
                          transform=fig.transFigure))
    fig.text(tx / W, 1 - ry / H, lab, fontsize=20, color=txt,
             ha="left", va="center")

fig.savefig("out.png", dpi=100)
